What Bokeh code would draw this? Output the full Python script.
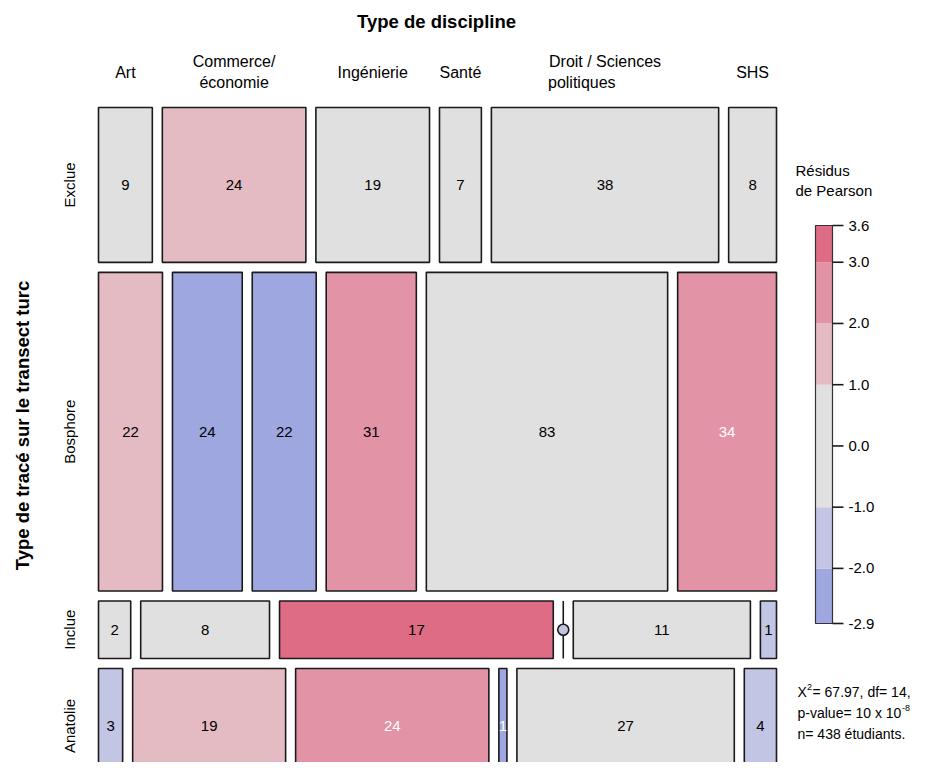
import numpy as np
from bokeh.plotting import figure
from bokeh.models import Range1d, ColumnDataSource
from bokeh.core.properties import value
from bokeh.embed import file_html
from bokeh.resources import INLINE

# ---------------- data ----------------
row_names = ["Exclue", "Bosphore", "Inclue", "Anatolie"]
col_lines = [["Art"], ["Commerce/", "économie"], ["Ingénierie"], ["Santé"],
             ["Droit / Sciences", "politiques"], ["SHS"]]
exclue = [9, 24, 19, 7, 38, 8]
bosphore = [22, 24, 22, 31, 83, 34]
inclue = [2, 8, 17, 0, 11, 1]
anatolie = [3, 19, 24, 1, 27, 4]
title_top = "Type de discipline"
title_left = "Type de tracé sur le transect turc"
legend_title = ["Résidus", "de Pearson"]
stat_lines = ["= 67.97, df= 14,", "p-value= 10 x 10", "n= 438 étudiants."]

# ---------------- styles ----------------
shade_colors = ["#9ea7e0", "#c2c5e3", "#e0e0e0", "#e4bbc2", "#e293a5", "#de6c85"]
white_text = {(1, 5), (3, 2), (3, 3)}
FONT = value("Liberation Sans")
X0, X1, Y0, Y1, GAP = 98, 776, 107, 783, 10

counts = np.array([exclue, bosphore, inclue, anatolie], dtype=float)
nr, nc = counts.shape
N = counts.sum()
E = np.outer(counts.sum(1), counts.sum(0)) / N
resid = (counts - E) / np.sqrt(E)
rmin, rmax = round(resid.min(), 1), round(resid.max(), 1)
breaks = [rmin, -2.0, -1.0, 1.0, 2.0, 3.0, rmax]
tick_vals = [rmin, -2.0, -1.0, 0.0, 1.0, 2.0, 3.0, rmax]

def shade(r):
    for k in range(6):
        if r < breaks[k + 1]:
            return shade_colors[k]
    return shade_colors[-1]

p = figure(width=916, height=762, x_range=Range1d(0, 916), y_range=Range1d(762, 0),
           output_backend="svg", toolbar_location=None, min_border=0)
p.axis.visible = False
p.grid.visible = False
p.outline_line_color = None
p.background_fill_color = "white"

# ---------------- mosaic layout ----------------
sy = (Y1 - Y0 - GAP * (nr - 1)) / N
cells = dict(l=[], r=[], t=[], b=[], c=[])
labels = dict(x=[], y=[], t=[], c=[])
zeros = dict(x=[], y=[], t=[], b=[], c=[])
row_centers = []
col_centers0 = []
ycur = Y0
for i in range(nr):
    h = counts[i].sum() * sy
    top, bot = ycur, ycur + h
    row_centers.append((top + bot) / 2)
    sx = (X1 - X0 - GAP * (nc - 1)) / counts[i].sum()
    xcur = X0
    for j in range(nc):
        w = counts[i, j] * sx
        if counts[i, j] == 0:
            zeros["x"].append(xcur); zeros["y"].append((top + bot) / 2)
            zeros["t"].append(top); zeros["b"].append(bot); zeros["c"].append(shade(resid[i, j]))
        else:
            cells["l"].append(xcur); cells["r"].append(xcur + w)
            cells["t"].append(top); cells["b"].append(bot); cells["c"].append(shade(resid[i, j]))
            labels["x"].append(xcur + w / 2); labels["y"].append((top + bot) / 2)
            labels["t"].append(str(int(counts[i, j])))
            labels["c"].append("white" if (i, j) in white_text else "black")
        if i == 0:
            col_centers0.append(xcur + w / 2)
        xcur += w + GAP
    ycur = bot + GAP

p.quad(left="l", right="r", top="t", bottom="b", fill_color="c", line_color="#1a1a1a",
       line_width=1.6, source=ColumnDataSource(cells))
p.segment(x0="x", x1="x", y0="t", y1="b", line_color="#1a1a1a", line_width=1.6,
          source=ColumnDataSource(zeros))
p.scatter(x="x", y="y", size=11, fill_color="c", line_color="#1a1a1a", line_width=1.6,
          source=ColumnDataSource(zeros))
p.text(x="x", y="y", text="t", text_color="c", text_align="center", text_baseline="middle",
       text_font=FONT, text_font_size="15px", source=ColumnDataSource(labels))

# ---------------- column labels ----------------
for j, lines in enumerate(col_lines):
    cx = col_centers0[j]
    if len(lines) == 1:
        p.text(x=[cx], y=[72], text=[lines[0]], text_align="center", text_baseline="middle",
               text_font=FONT, text_font_size="16px", text_color="black")
    elif j == 4:
        p.text(x=[cx], y=[61], text=[lines[0]], text_align="center", text_baseline="middle",
               text_font=FONT, text_font_size="16px", text_color="black")
        p.text(x=[cx - 57], y=[82], text=[lines[1]], text_align="left", text_baseline="middle",
               text_font=FONT, text_font_size="16px", text_color="black")
    else:
        p.text(x=[cx, cx], y=[61, 82], text=lines, text_align="center", text_baseline="middle",
               text_font=FONT, text_font_size="16px", text_color="black")

# ---------------- row labels ----------------
p.text(x=[69] * nr, y=row_centers, text=row_names, angle=np.pi / 2, text_align="center",
       text_baseline="middle", text_font=FONT, text_font_size="15px", text_color="black")

# ---------------- titles ----------------
p.text(x=[(X0 + X1) / 2 - 1], y=[21], text=[title_top], text_align="center",
       text_baseline="middle", text_font=FONT, text_font_size="18.5px", text_font_style="bold",
       text_color="black")
p.text(x=[22], y=[425], text=[title_left], angle=np.pi / 2, text_align="center",
       text_baseline="middle", text_font=FONT, text_font_size="18.5px", text_font_style="bold",
       text_color="black")

# ---------------- colour legend ----------------
LX0, LX1, LTOP, LBOT = 815, 832, 225, 623
def ly(v):
    return LTOP + (breaks[-1] - v) * (LBOT - LTOP) / (breaks[-1] - breaks[0])

leg = dict(l=[LX0] * 6, r=[LX1] * 6, t=[ly(breaks[k + 1]) for k in range(6)],
           b=[ly(breaks[k]) for k in range(6)], c=shade_colors)
p.quad(left="l", right="r", top="t", bottom="b", fill_color="c", line_color=None,
       source=ColumnDataSource(leg))
p.quad(left=[LX0], right=[LX1], top=[LTOP], bottom=[LBOT], fill_color=None,
       line_color="#333333", line_width=1.2)
ty = [ly(b) for b in tick_vals]
nt = len(tick_vals)
p.segment(x0=[LX1] * nt, x1=[LX1 + 11] * nt, y0=ty, y1=ty, line_color="#1a1a1a", line_width=1.6)
p.text(x=[848] * nt, y=ty, text=["%.1f" % b for b in tick_vals], text_align="left",
       text_baseline="middle", text_font=FONT, text_font_size="15px", text_color="black")
p.text(x=[795, 795], y=[170, 190], text=legend_title, text_align="left", text_baseline="middle",
       text_font=FONT, text_font_size="15px", text_color="black")

# ---------------- statistics ----------------
SX = 797
p.text(x=[SX], y=[691], text=["X"], text_align="left", text_baseline="middle",
       text_font=FONT, text_font_size="14px", text_color="black")
p.text(x=[SX + 9.5], y=[686], text=["2"], text_align="left", text_baseline="middle",
       text_font=FONT, text_font_size="9px", text_color="black")
p.text(x=[SX + 15], y=[691], text=[stat_lines[0]], text_align="left", text_baseline="middle",
       text_font=FONT, text_font_size="14px", text_color="black")
p.text(x=[SX], y=[712], text=[stat_lines[1]], text_align="left", text_baseline="middle",
       text_font=FONT, text_font_size="14px", text_color="black")
p.text(x=[SX + 104.5], y=[707], text=["-8"], text_align="left", text_baseline="middle",
       text_font=FONT, text_font_size="9px", text_color="black")
p.text(x=[SX], y=[733], text=[stat_lines[2]], text_align="left", text_baseline="middle",
       text_font=FONT, text_font_size="14px", text_color="black")

open("out.html", "w").write(file_html(p, INLINE))
